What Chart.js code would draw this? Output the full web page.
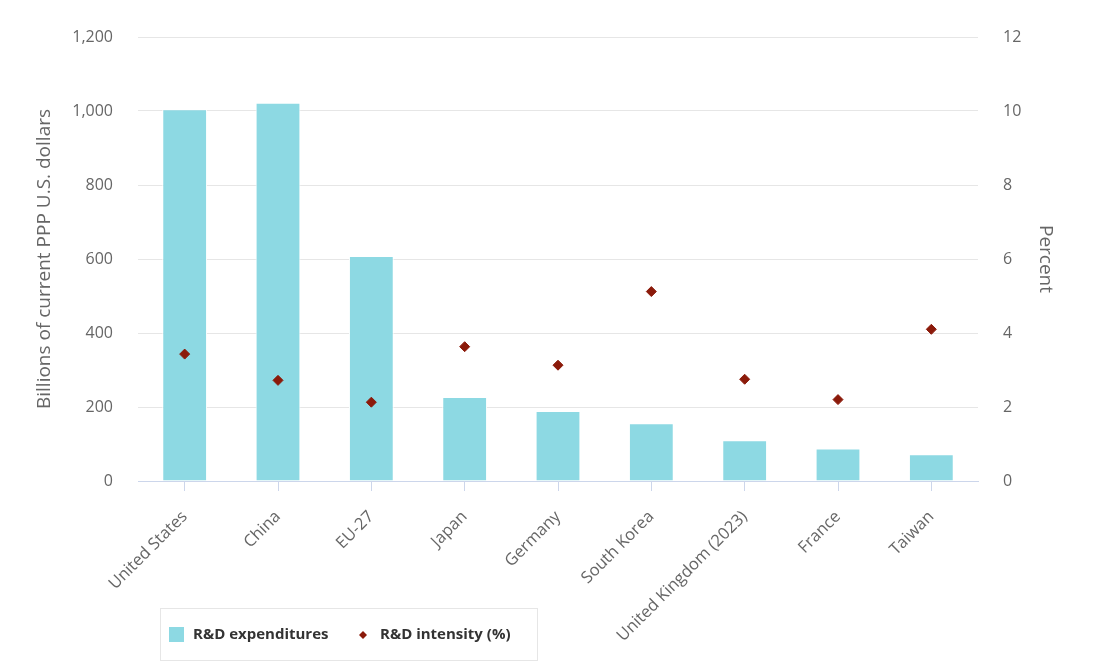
<!DOCTYPE html>
<html>
<head>
<meta charset="utf-8">
<script src="https://cdn.jsdelivr.net/npm/chart.js@4/dist/chart.umd.min.js"></script>
<style>
  html, body { margin: 0; padding: 0; background: #fff; }
  #wrap { width: 1097px; height: 662px; }
</style>
</head>
<body>
<div id="wrap"><canvas id="chart"></canvas></div>
<script>
// Datos del gráfico
const paises = ['United States', 'China', 'EU-27', 'Japan', 'Germany', 'South Korea', 'United Kingdom (2023)', 'France', 'Taiwan'];
const gastoID = [1005, 1022, 608, 227, 189, 156, 110, 88, 72];
const intensidadID = [3.43, 2.72, 2.13, 3.63, 3.13, 5.12, 2.75, 2.2, 4.1];
const ticksIzq = [0, 200, 400, 600, 800, 1000, 1200];
const ticksDer = [0, 2, 4, 6, 8, 10, 12];

const fuente = '"Open Sans", "Noto Sans", sans-serif';

// Leyenda con recuadro, dibujada a mano
const leyendaPlugin = {
    id: 'leyendaRecuadro',
    afterDraw(chart) {
        const ctx = chart.ctx;
        const ds = chart.data.datasets;
        ctx.save();
        ctx.strokeStyle = '#e6e6e6';
        ctx.lineWidth = 1;
        ctx.strokeRect(160.5, 608.5, 377, 52);

        ctx.font = 'bold 15px ' + fuente;
        ctx.textBaseline = 'middle';
        const y = 635;

        // barras
        ctx.fillStyle = ds[0].backgroundColor;
        ctx.fillRect(169, 627, 15, 15);
        ctx.fillStyle = '#333333';
        ctx.fillText(ds[0].label, 193, y);

        // diamante
        ctx.fillStyle = ds[1].backgroundColor;
        ctx.beginPath();
        ctx.moveTo(363, y - 4);
        ctx.lineTo(367, y);
        ctx.lineTo(363, y + 4);
        ctx.lineTo(359, y);
        ctx.closePath();
        ctx.fill();
        ctx.fillStyle = '#333333';
        ctx.fillText(ds[1].label, 380, y);
        ctx.restore();
    }
};

const ctx = document.getElementById('chart').getContext('2d');
new Chart(ctx, {
    type: 'bar',
    data: {
        labels: paises,
        datasets: [{
            type: 'bar',
            label: 'R&D expenditures',
            data: gastoID,
            yAxisID: 'y',
            backgroundColor: '#8dd9e3',
            borderColor: '#ffffff',
            borderWidth: 1,
            barPercentage: 0.48,
            categoryPercentage: 1,
            order: 1
        }, {
            type: 'line',
            label: 'R&D intensity (%)',
            data: intensidadID,
            yAxisID: 'y1',
            showLine: false,
            pointStyle: 'rectRot',
            pointRadius: 5,
            pointHoverRadius: 5,
            backgroundColor: '#8b1a0a',
            borderColor: '#8b1a0a',
            borderWidth: 1,
            order: 0
        }]
    },
    options: {
        responsive: true,
        maintainAspectRatio: false,
        animation: false,
        layout: { padding: { top: 37, left: 0, right: 0, bottom: 0 } },
        plugins: {
            legend: { display: false },
            tooltip: { enabled: false }
        },
        scales: {
            x: {
                grid: {
                    drawOnChartArea: false,
                    drawTicks: true,
                    tickLength: 10,
                    offset: false,
                    color: '#ccd6eb'
                },
                border: { color: '#ccd6eb' },
                ticks: {
                    minRotation: 45,
                    maxRotation: 45,
                    autoSkip: false,
                    padding: 16,
                    color: '#666666',
                    font: { family: fuente, size: 16.5 }
                },
                afterFit(scale) { scale.height = 181; }
            },
            y: {
                position: 'left',
                min: 0,
                max: 1200,
                afterBuildTicks(scale) { scale.ticks = ticksIzq.map(v => ({ value: v })); },
                grid: { color: '#e6e6e6', drawTicks: false },
                border: { display: false },
                ticks: {
                    padding: 25,
                    color: '#666666',
                    font: { family: fuente, size: 16 },
                    callback: v => v.toLocaleString('en-US')
                },
                title: {
                    display: true,
                    text: 'Billions of current PPP U.S. dollars',
                    color: '#666666',
                    font: { family: fuente, size: 19 },
                    padding: { top: 33, bottom: 0 }
                },
                afterFit(scale) { scale.width = 138; }
            },
            y1: {
                position: 'right',
                min: 0,
                max: 12,
                afterBuildTicks(scale) { scale.ticks = ticksDer.map(v => ({ value: v })); },
                grid: { drawOnChartArea: false, drawTicks: false },
                border: { display: false },
                ticks: {
                    padding: 25,
                    color: '#666666',
                    font: { family: fuente, size: 16 }
                },
                title: {
                    display: true,
                    text: 'Percent',
                    color: '#666666',
                    font: { family: fuente, size: 19 },
                    padding: { top: 40, bottom: 0 }
                },
                afterFit(scale) { scale.width = 119; }
            }
        }
    },
    plugins: [leyendaPlugin]
});
</script>
</body>
</html>
